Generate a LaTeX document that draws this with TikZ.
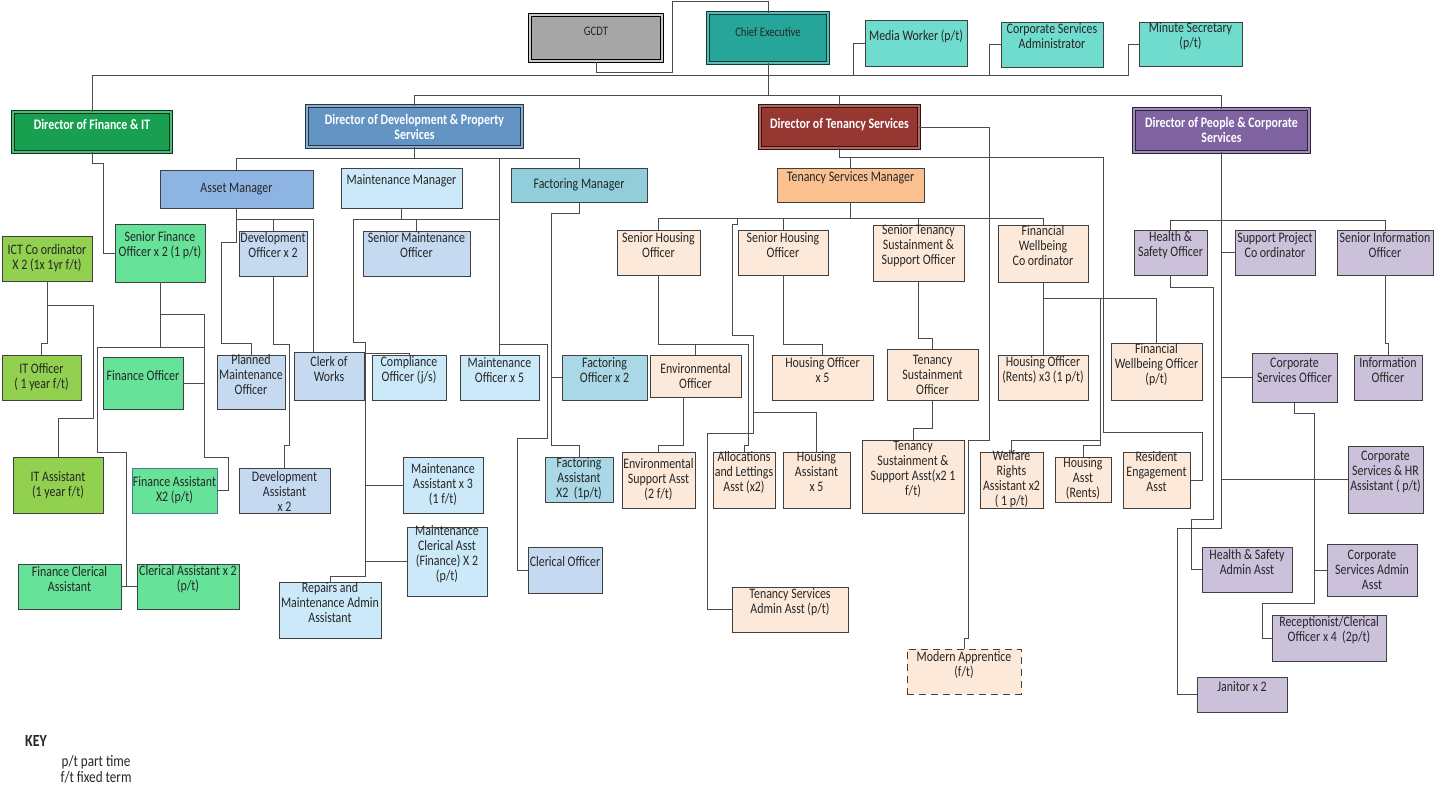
\documentclass[tikz,border=0pt]{standalone}
\usepackage{fontspec}
\setmainfont{Carlito}[FakeStretch=0.82]
\usepackage{tikz}
\usetikzlibrary{positioning}
\definecolor{GcdtGrey}{RGB}{166,166,166}
\definecolor{CeoTeal}{RGB}{38,166,154}
\definecolor{AideTeal}{RGB}{112,220,206}
\definecolor{FinDir}{RGB}{24,160,80}
\definecolor{FinMint}{RGB}{102,226,153}
\definecolor{ItGreen}{RGB}{146,208,80}
\definecolor{DevDir}{RGB}{99,148,196}
\definecolor{AssetBlue}{RGB}{142,180,227}
\definecolor{MaintBlue}{RGB}{204,233,250}
\definecolor{DevGrey}{RGB}{197,217,241}
\definecolor{FacMgr}{RGB}{146,205,220}
\definecolor{FacBlue}{RGB}{170,216,230}
\definecolor{TenDir}{RGB}{150,55,50}
\definecolor{TenMgr}{RGB}{250,192,144}
\definecolor{TenPeach}{RGB}{253,233,217}
\definecolor{PeoDir}{RGB}{128,100,162}
\definecolor{PeoLilac}{RGB}{204,193,218}
\tikzset{%
  JobBox/.style={draw=black!75,line width=.9pt,inner sep=0pt},
  JobText/.style={align=center,inner sep=0pt,text=black!85,font=\fontsize{14.5}{15}\selectfont},
  SmallText/.style={font=\fontsize{13}{15}\selectfont},
  RoleStyle/.style={fill=#1},
  DirStyle/.style={fill=#1,draw=#1!35!black,double=#1!75!white,double distance=1.4pt,
    line width=.9pt,text=white,font=\fontsize{14.5}{15}\selectfont\bfseries},
  CeoStyle/.style={fill=CeoTeal,draw=CeoTeal!35!black,double=CeoTeal!75!white,
    double distance=1.4pt,line width=.9pt,SmallText},
  Link/.style={draw=black!70,line width=.9pt}
}
\newcommand{\Job}[8]{%
  \node[JobBox,#1,minimum width={#5-#3},minimum height={#6-#4}] (#2) at ({(#3+#5)/2},{(#4+#6)/2}) {};
  \node[JobText,#1,draw=none,fill=none] (#2-t) at ({(#3+#5)/2},#7) {#8};}

\begin{document}
\begin{tikzpicture}[x=1pt,y=-1pt]
  \useasboundingbox (0,0) rectangle (1441,797);

  \Job{fill=GcdtGrey,draw=black,line width=1.7pt,double=GcdtGrey!60!white,double distance=1.2pt,SmallText}{gcdt}{530}{15}{662}{61}{31}{GCDT}
  \Job{CeoStyle}{ceo}{708}{13}{828}{63}{32}{Chief Executive}
  \Job{RoleStyle=AideTeal}{media}{865}{20}{967}{66}{36}{Media Worker (p/t)}
  \Job{RoleStyle=AideTeal}{csadmin}{1001}{22}{1103}{67}{36.5}{Corporate Services\\Administrator}
  \Job{RoleStyle=AideTeal}{minute}{1139}{22}{1242}{66}{36.5}{Minute Secretary\\(p/t)}

  \Job{DirStyle=FinDir}{dfin}{13}{112}{171}{152}{124}{Director of Finance \& IT}
  \Job{DirStyle=DevDir}{ddev}{307}{106}{522}{147}{126.5}{Director of Development \& Property\\Services}
  \Job{DirStyle=TenDir}{dten}{760}{106}{919}{148}{125}{Director of Tenancy Services}
  \Job{DirStyle=PeoDir}{dpeo}{1134}{109}{1309}{152}{129.5}{Director of People \& Corporate\\Services}

  \Job{RoleStyle=AssetBlue}{asset}{160}{170}{313}{208}{189}{Asset Manager}
  \Job{RoleStyle=MaintBlue}{mmgr}{341}{168}{462}{208}{181}{Maintenance Manager}
  \Job{RoleStyle=FacMgr}{fmgr}{511}{168}{647}{202}{185}{Factoring Manager}
  \Job{RoleStyle=TenMgr}{tsm}{777}{168}{924}{202}{178}{Tenancy Services Manager}

  \Job{RoleStyle=FinMint}{sfo}{115}{224}{205}{282}{245.5}{Senior Finance\\Officer x 2 (1 p/t)}
  \Job{RoleStyle=ItGreen}{ict}{2}{236}{92}{281}{258}{ICT Co ordinator\\X 2 (1x 1yr f/t)}
  \Job{RoleStyle=ItGreen}{itoff}{2}{355}{81}{400}{377.5}{IT Officer\\( 1 year f/t)}
  \Job{RoleStyle=ItGreen}{itasst}{13}{457}{103}{513}{485}{IT Assistant\\(1 year f/t)}
  \Job{RoleStyle=FinMint}{finoff}{103}{357}{183}{409}{376}{Finance Officer}
  \Job{RoleStyle=FinMint,draw=cyan!55!black}{finasst}{132}{468}{217}{513}{490}{Finance Assistant\\X2 (p/t)}
  \Job{RoleStyle=FinMint}{fincler}{18}{564}{121}{609}{579.5}{Finance Clerical\\Assistant}
  \Job{RoleStyle=FinMint}{clerasst}{137}{564}{239}{609}{579.5}{Clerical Assistant x 2\\(p/t)}

  \Job{RoleStyle=DevGrey}{devoff}{239}{231}{307}{276}{245.5}{Development\\Officer x 2}
  \Job{RoleStyle=DevGrey}{smo}{363}{231}{470}{276}{245.5}{Senior Maintenance\\Officer}
  \Job{RoleStyle=DevGrey}{planned}{217}{355}{285}{409}{374.5}{Planned\\Maintenance\\Officer}
  \Job{RoleStyle=DevGrey}{clerk}{294}{352}{364}{400}{369}{Clerk of\\Works}
  \Job{RoleStyle=MaintBlue}{compl}{372}{355}{446}{400}{370}{Compliance\\Officer (j/s)}
  \Job{RoleStyle=MaintBlue}{maintoff}{460}{355}{539}{400}{370}{Maintenance\\Officer x 5}
  \Job{RoleStyle=FacBlue}{facoff}{562}{355}{647}{400}{370}{Factoring\\Officer x 2}
  \Job{RoleStyle=DevGrey}{devasst}{239}{468}{330}{513}{491}{Development\\Assistant\\x 2}
  \Job{RoleStyle=MaintBlue}{maintasst}{403}{457}{483}{513}{485}{Maintenance\\Assistant x 3\\(1 f/t)}
  \Job{RoleStyle=MaintBlue}{maintcler}{407}{527}{487}{596}{554.5}{Maintenance\\Clerical Asst\\(Finance) X 2\\(p/t)}
  \Job{RoleStyle=MaintBlue}{repairs}{279}{582}{381}{638}{603}{Repairs and\\Maintenance Admin\\Assistant}
  \Job{RoleStyle=FacBlue}{facasst}{545}{457}{613}{502}{479}{Factoring\\Assistant\\X2~~(1p/t)}
  \Job{RoleStyle=DevGrey}{clerical}{528}{547}{602}{593}{562}{Clerical Officer}

  \Job{RoleStyle=TenPeach}{sho1}{617}{230}{700}{275}{245.5}{Senior Housing\\Officer}
  \Job{RoleStyle=TenPeach}{sho2}{738}{230}{828}{275}{245.5}{Senior Housing\\Officer}
  \Job{RoleStyle=TenPeach}{stso}{873}{225}{964}{281}{246}{Senior Tenancy\\Sustainment \&\\Support Officer}
  \Job{RoleStyle=TenPeach}{fwc}{998}{225}{1088}{282}{246}{Financial\\Wellbeing\\Co ordinator}
  \Job{RoleStyle=TenPeach}{envoff}{650}{355}{741}{397}{376}{Environmental\\Officer}
  \Job{RoleStyle=TenPeach}{hoff5}{772}{355}{873}{400}{370}{Housing Officer\\x 5}
  \Job{RoleStyle=TenPeach}{tso}{887}{349}{978}{400}{374.5}{Tenancy\\Sustainment\\Officer}
  \Job{RoleStyle=TenPeach}{horents}{998}{355}{1088}{400}{370}{Housing Officer\\(Rents) x3 (1 p/t)}
  \Job{RoleStyle=TenPeach}{fwo}{1111}{343}{1202}{400}{364.5}{Financial\\Wellbeing Officer\\(p/t)}
  \Job{RoleStyle=TenPeach}{envsup}{622}{452}{695}{508}{479}{Environmental\\Support Asst\\(2 f/t)}
  \Job{RoleStyle=TenPeach}{alloc}{713}{452}{775}{508}{472}{Allocations\\and Lettings\\Asst (x2)}
  \Job{RoleStyle=TenPeach}{hasst5}{783}{452}{850}{508}{472}{Housing\\Assistant\\x 5}
  \Job{RoleStyle=TenPeach}{tssa}{862}{440}{964}{513}{469.5}{Tenancy\\Sustainment \&\\Support Asst(x2 1\\f/t)}
  \Job{RoleStyle=TenPeach}{welfare}{980}{452}{1043}{508}{479}{Welfare\\Rights\\Assistant x2\\( 1 p/t)}
  \Job{RoleStyle=TenPeach}{hasstrents}{1055}{457}{1111}{502}{479}{Housing\\Asst\\(Rents)}
  \Job{RoleStyle=TenPeach}{resident}{1123}{452}{1190}{508}{472}{Resident\\Engagement\\Asst}
  \Job{RoleStyle=TenPeach}{tsadmin}{732}{587}{848}{632}{602}{Tenancy Services\\Admin Asst (p/t)}
  \Job{RoleStyle=TenPeach,dash pattern=on 7pt off 5pt}{apprentice}{907}{649}{1021}{694}{664.5}{Modern Apprentice\\(f/t)}

  \Job{RoleStyle=PeoLilac}{hso}{1134}{230}{1207}{275}{245.5}{Health \&\\Safety Officer}
  \Job{RoleStyle=PeoLilac}{spc}{1235}{230}{1315}{275}{245.5}{Support Project\\Co ordinator}
  \Job{RoleStyle=PeoLilac}{sio}{1337}{230}{1433}{275}{245.5}{Senior Information\\Officer}
  \Job{RoleStyle=PeoLilac}{cso}{1252}{353}{1337}{402}{370}{Corporate\\Services Officer}
  \Job{RoleStyle=PeoLilac}{infoff}{1354}{355}{1422}{400}{370}{Information\\Officer}
  \Job{RoleStyle=PeoLilac}{cshr}{1348}{446}{1423}{513}{472}{Corporate\\Services \& HR\\Assistant ( p/t)}
  \Job{RoleStyle=PeoLilac}{hsadmin}{1202}{547}{1292}{592}{562.5}{Health \& Safety\\Admin Asst}
  \Job{RoleStyle=PeoLilac}{csadm2}{1327}{544}{1417}{596}{569.5}{Corporate\\Services Admin\\Asst}
  \Job{RoleStyle=PeoLilac}{recept}{1272}{615}{1386}{661}{630}{Receptionist/Clerical\\Officer x 4~~(2p/t)}
  \Job{RoleStyle=PeoLilac}{janitor}{1197}{677}{1287}{712}{687}{Janitor x 2}

  % top of the chart
  \draw[Link] (gcdt.south) |- (672,72) -- (672,1) -| (ceo.north);
  \draw[Link] (ceo.south) -- (768,95);
  \draw[Link] (dfin.north) |- (1128,75) |- (minute.west);
  \draw[Link] (853,75) |- (media.west);
  \draw[Link] (989,75) |- (csadmin.west);
  \draw[Link] (ddev.north) -- (414.5,95) -| (dpeo.north);
  \draw[Link] (839.5,95) -- (dten.north);

  % finance & IT
  \draw[Link] (dfin.south) |- (103,163) |- (sfo.west);
  \draw[Link] (sfo.south) |- (204,314) -- (204,457) -| (228,490.5) -- (finasst.east);
  \draw[Link] (204,383) -- (finoff.east);
  \draw[Link] (160,314) -- (160,347);
  \draw[Link] (204,347) -- (97,347) |- (126,452) -- (126,586.5);
  \draw[Link] (fincler.east) -- (clerasst.west);
  \draw[Link] (ict.south) |- (93,305) -- (93,418) -| (itasst.north);
  \draw[Link] (47,305) -- (47,343) -| (itoff.north);

  % development & property
  \draw[Link] (ddev.south) -- (414.5,158);
  \draw[Link] (asset.north) -- (236.5,158) -| (fmgr.north);
  \draw[Link] (499.5,158) -- (maintoff.north);
  \draw[Link] (asset.south) |- (313,219) -- ([xshift=-16pt]clerk.north);
  \draw[Link] (273,219) -- (devoff.north);
  \draw[Link] (asset.south) -- (236.5,242) -| (221,343) -| (planned.north);
  \draw[Link] (devoff.south) |- (289,344) -- (289,445) -| (devasst.north);
  \draw[Link] (mmgr.south) -- (401.5,219);
  \draw[Link] (353,219) -- (499.5,219);
  \draw[Link] (416.5,219) -- (smo.north);
  \draw[Link] (353,219) -- (353,342) -| (365,576) -| (repairs.north);
  \draw[Link] (365,353) -| (compl.north);
  \draw[Link] (365,485) -- (maintasst.west);
  \draw[Link] (365,561.5) -- (maintcler.west);
  \draw[Link] (499.5,344) -| (547,438) -| (517,570) -- (clerical.west);
  \draw[Link] (fmgr.south) |- (551,213) -- (551,445) -| (facasst.north);
  \draw[Link] (551,377.5) -- (facoff.west);

  % tenancy services
  \draw[Link] (dten.south) |- (1103,157) -- (1103,432) -| (1202,480) -- (resident.east);
  \draw[Link] (850.5,157) -- (tsm.north);
  \draw[Link] (dten.east) -| (989,440) -| (968,638) -| (apprentice.north);
  \draw[Link] (tsm.south) -- (850.5,218);
  \draw[Link] (sho1.north) -- (658.5,218) -| (fwc.north);
  \draw[Link] (783,218) -- (sho2.north);
  \draw[Link] (918.5,218) -- (stso.north);
  \draw[Link] (737,218) |- (732,224) |- (753,335) |- (707,433) |- (tsadmin.west);
  \draw[Link] (753,412) -| (hasst5.north);
  \draw[Link] (sho1.south) |- (748,344) -- (748,445) -| (alloc.north);
  \draw[Link] (695.5,344) -- (envoff.north);
  \draw[Link] ([xshift=-12.5pt]envoff.south) -- (683,445) -| (envsup.north);
  \draw[Link] (sho2.south) |- (822.5,344) -- (hoff5.north);
  \draw[Link] (stso.south) |- (932.5,338) -- (tso.north);
  \draw[Link] (tso.south) |- (913,428) -- (tssa.north);
  \draw[Link] (fwc.south) -- (horents.north);
  \draw[Link] (1043,298) -| (fwo.north);
  \draw[Link] (1100,298) -- (1100,445) -| (hasstrents.north);
  \draw[Link] (1100,440) -| (welfare.north);

  % people & corporate services
  \draw[Link] (dpeo.south) -- (1221.5,528) -| (1177,694.5) -- (janitor.west);
  \draw[Link] (hso.north) -- (1170.5,220) -| (sio.north);
  \draw[Link] (1221.5,252.5) -- (spc.west);
  \draw[Link] (1221.5,377.5) -- (cso.west);
  \draw[Link] (1221.5,479.5) -- (cshr.west);
  \draw[Link] (hso.south) |- (1213,287) -- (1213,519) -| (1191,569.5) -- (hsadmin.west);
  \draw[Link] (cso.south) |- (1314,413) -- (1314,603) -| (1262,638) -- (recept.west);
  \draw[Link] (1314,570) -- (csadm2.west);
  \draw[Link] (sio.south) |- (1388,343) -- (infoff.north);

  \node[JobText,font=\fontsize{17}{20}\selectfont\bfseries] (key) at (36,741) {KEY};
  \node[JobText,font=\fontsize{16}{16}\selectfont,below=8pt of key,xshift=60pt] (keynote) {p/t part time\\f/t fixed term};
\end{tikzpicture}
\end{document}
